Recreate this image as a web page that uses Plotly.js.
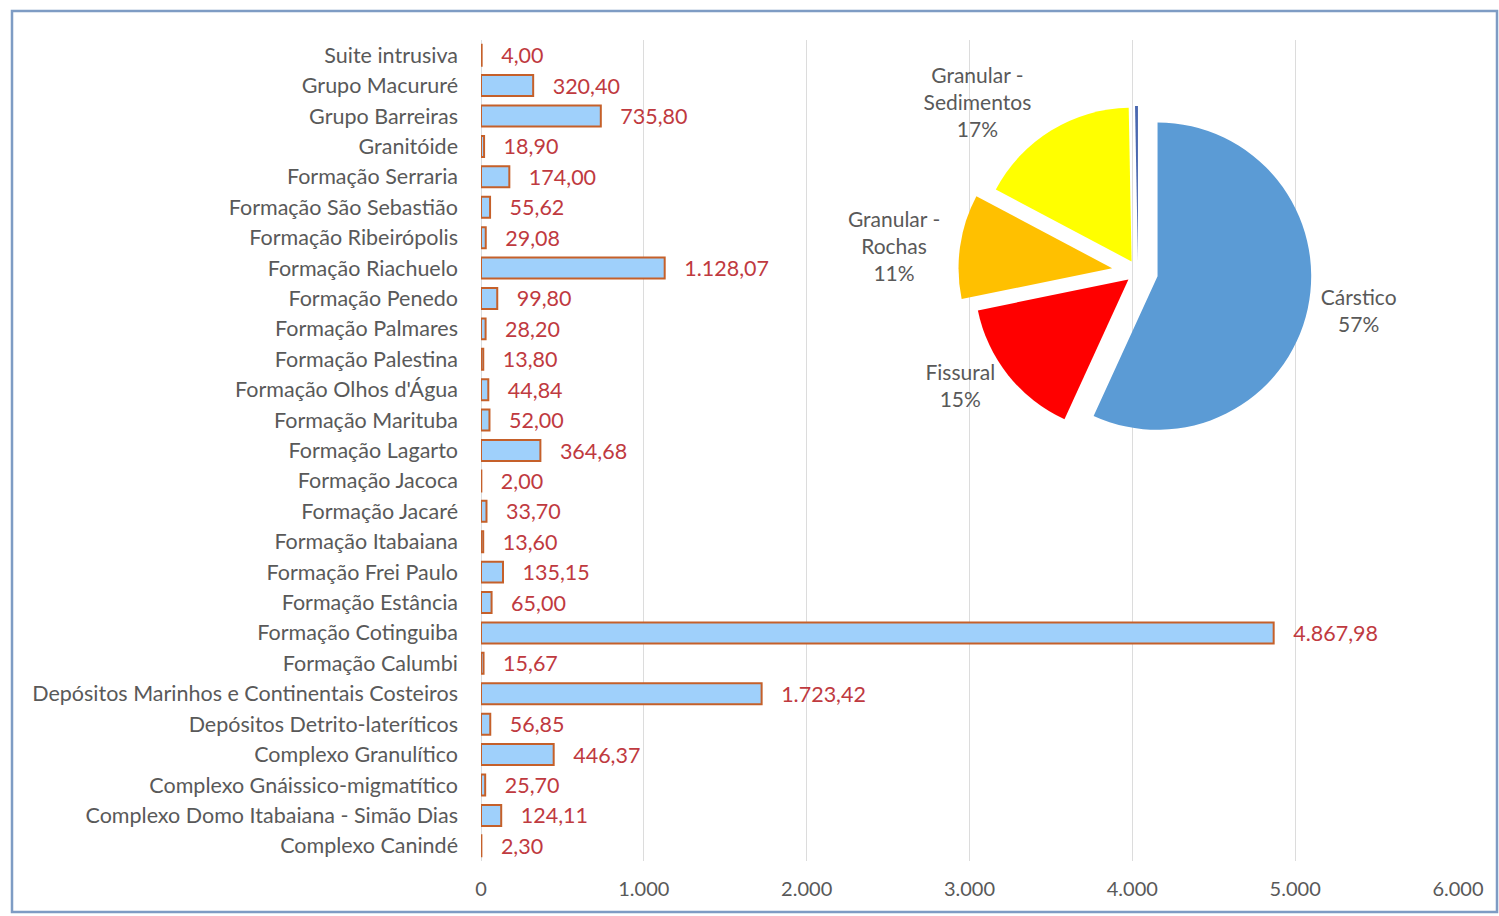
<!DOCTYPE html>
<html>
<head>
<meta charset="utf-8">
<script src="https://cdn.plot.ly/plotly-3.0.1.min.js"></script>
<style>html,body{margin:0;padding:0;background:#fff;}#chart{width:1499px;height:916px;}</style>
</head>
<body>
<div id="chart"></div>
<script>
// Bar chart data (top to bottom)
const categories = [
  "Suite intrusiva", "Grupo Macururé", "Grupo Barreiras", "Granitóide",
  "Formação Serraria", "Formação São Sebastião", "Formação Ribeirópolis",
  "Formação Riachuelo", "Formação Penedo", "Formação Palmares",
  "Formação Palestina", "Formação Olhos d'Água", "Formação Marituba",
  "Formação Lagarto", "Formação Jacoca", "Formação Jacaré",
  "Formação Itabaiana", "Formação Frei Paulo", "Formação Estância",
  "Formação Cotinguiba", "Formação Calumbi",
  "Depósitos Marinhos e Continentais Costeiros",
  "Depósitos Detrito-lateríticos", "Complexo Granulítico",
  "Complexo Gnáissico-migmatítico", "Complexo Domo Itabaiana - Simão Dias",
  "Complexo Canindé"
];
const areaValues = [
  4.00, 320.40, 735.80, 18.90, 174.00, 55.62, 29.08, 1128.07, 99.80, 28.20,
  13.80, 44.84, 52.00, 364.68, 2.00, 33.70, 13.60, 135.15, 65.00, 4867.98,
  15.67, 1723.42, 56.85, 446.37, 25.70, 124.11, 2.30
];
const xTickValues = [0, 1000, 2000, 3000, 4000, 5000, 6000];

// Pie chart data
const pieLabels = ["Cárstico", "Fissural", "Granular -<br>Rochas", "Granular -<br>Sedimentos", ""];
const pieValues = [57, 15, 11, 17, 0.3];
const pieColors = ["#5b9bd5", "#ff0000", "#ffc000", "#ffff00", "#4a68b0"];

const font = "Lato, 'Open Sans', sans-serif";

// layout geometry
const W = 1499, H = 916;
const mL = 481, mR = 41, mT = 40, mB = 55;
const pw = W - mL - mR, ph = H - mT - mB;
const px2x = p => (p - mL) / pw;
const py2y = p => 1 - (p - mT) / ph;

const barTrace = {
  type: "bar",
  orientation: "h",
  y: categories,
  x: areaValues,
  marker: { color: "#9fd0fb", line: { color: "#c5602a", width: 2 } },
  texttemplate: "\u00a0\u00a0\u00a0%{x:,.2f}",
  textposition: "outside",
  constraintext: "none",
  cliponaxis: false,
  textfont: { family: font, size: 21.5, color: "#bf3a3f" },
  hoverinfo: "skip",
  showlegend: false
};

const pieTrace = {
  type: "pie",
  labels: pieLabels,
  values: pieValues,
  sort: false,
  direction: "clockwise",
  rotation: 0,
  pull: [0.13, 0.08, 0.17, 0.08, 0.08],
  marker: { colors: pieColors, line: { color: "#ffffff", width: 0 } },
  texttemplate: ["%{label}<br>%{percent:.0%}", "%{label}<br>%{percent:.0%}", "%{label}<br>%{percent:.0%}", "%{label}<br>%{percent:.0%}", ""],
  textposition: "outside",
  textfont: { family: font, size: 21, color: "#595959" },
  domain: { x: [0.4885, 0.8565], y: [0.4985, 0.9365] },
  showlegend: false,
  hoverinfo: "skip"
};

const layout = {
  width: W, height: H,
  margin: { l: mL, r: mR, t: mT, b: mB, pad: 0 },
  paper_bgcolor: "#ffffff",
  plot_bgcolor: "rgba(0,0,0,0)",
  separators: ",.",
  bargap: 0.31,
  font: { family: font, color: "#595959" },
  xaxis: {
    range: [0, 6000],
    tickvals: xTickValues,
    tickformat: ",.0f",
    showgrid: true, gridcolor: "#dcdcdc", gridwidth: 1,
    zeroline: true, zerolinecolor: "#dcdcdc", zerolinewidth: 1,
    showline: false, ticks: "",
    ticklabelstandoff: 14,
    tickfont: { family: font, size: 20, color: "#595959" },
    fixedrange: true
  },
  yaxis: {
    type: "category",
    autorange: "reversed",
    showgrid: false, zeroline: false, showline: false, ticks: "",
    ticklabelstandoff: 22,
    tickfont: { family: font, size: 21.5, color: "#595959" },
    automargin: false,
    fixedrange: true
  },
  shapes: [
    { type: "rect", xref: "paper", yref: "paper",
      x0: px2x(12), x1: px2x(1497), y0: py2y(912), y1: py2y(11),
      line: { color: "#7e9cc4", width: 2.5 }, fillcolor: "rgba(0,0,0,0)", layer: "below" }
  ]
};

Plotly.newPlot("chart", [barTrace, pieTrace], layout, { displayModeBar: false, staticPlot: true });
</script>
</body>
</html>
